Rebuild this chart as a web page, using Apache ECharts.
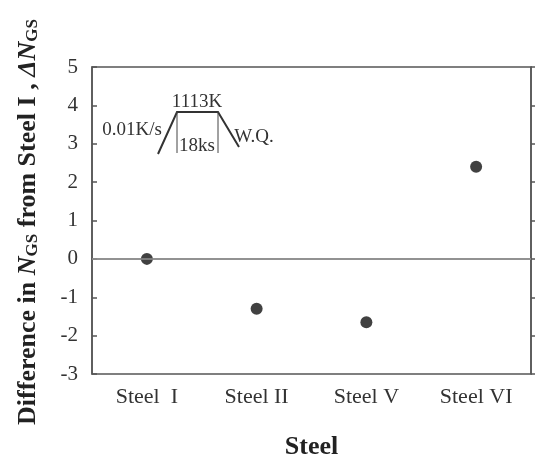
<!DOCTYPE html>
<html><head><meta charset="utf-8">
<script src="https://cdn.jsdelivr.net/npm/echarts@6/dist/echarts.min.js"></script>
<style>html,body{margin:0;padding:0;background:#fff}#c{width:536px;height:465px}</style>
</head><body><div id="c"></div>
<script>
const categories = ['Steel  I', 'Steel II', 'Steel V', 'Steel VI'];
const deltaNgs = [0, -1.3, -1.65, 2.4];
const yTicks = [-3, -2, -1, 0, 1, 2, 3, 4, 5];

const serif = '"Liberation Serif", "DejaVu Serif", serif';
const chart = echarts.init(document.getElementById('c'), null, {renderer: 'canvas'});
const axisCol = '#555';
chart.setOption({
  animation: false,
  backgroundColor: '#fff',
  grid: {left: 92, right: 5, top: 67, bottom: 74, show: true, borderColor: axisCol, borderWidth: 1.5, backgroundColor: 'transparent'},
  xAxis: {
    type: 'category', data: categories, boundaryGap: true,
    axisLine: {lineStyle: {color: axisCol, width: 1.5}},
    axisTick: {inside: true, length: 5, alignWithLabel: true, lineStyle: {color: axisCol, width: 1.5}},
    axisLabel: {color: '#333', fontFamily: serif, fontSize: 22, margin: 12},
    splitLine: {show: false},
    name: 'Steel', nameLocation: 'middle', nameGap: 60,
    nameTextStyle: {fontFamily: serif, fontSize: 26, fontWeight: 'bold', color: '#222'}
  },
  yAxis: [{
    type: 'value', min: yTicks[0], max: yTicks[yTicks.length - 1], interval: 1,
    axisLine: {show: true, lineStyle: {color: axisCol, width: 1.5}},
    axisTick: {show: true, inside: true, length: 5, lineStyle: {color: axisCol, width: 1.5}},
    axisLabel: {color: '#333', fontFamily: serif, fontSize: 21, margin: 14},
    splitLine: {show: false}
  }, {
    type: 'value', position: 'right', min: yTicks[0], max: yTicks[yTicks.length - 1], interval: 1,
    axisLine: {show: true, lineStyle: {color: axisCol, width: 1.5}},
    axisTick: {show: true, inside: false, length: 4, lineStyle: {color: axisCol, width: 1.5}},
    axisLabel: {show: false}, splitLine: {show: false}
  }],
  series: [{
    type: 'scatter', data: deltaNgs, symbolSize: 12,
    itemStyle: {color: '#111'},
    markLine: {
      silent: true, symbol: 'none', label: {show: false},
      lineStyle: {color: '#999', width: 1.5, type: 'solid'},
      data: [{yAxis: 0}]
    }
  }],
  graphic: [
    {type: 'text', x: 28, y: 222, rotation: Math.PI / 2, style: {
      text: '{b|Difference in }{i|N}{s|GS}{b| from Steel I , }{i|ΔN}{s|GS}',
      align: 'center', verticalAlign: 'middle',
      rich: {
        b: {fontFamily: serif, fontSize: 26, fontWeight: 'bold', fill: '#222'},
        i: {fontFamily: serif, fontSize: 26, fontWeight: 'bold', fontStyle: 'italic', fill: '#222'},
        s: {fontFamily: serif, fontSize: 17, fontWeight: 'bold', fill: '#222', padding: [10, 0, 0, 0]}
      }
    }},
    {type: 'polyline', shape: {points: [[158, 154], [177, 112], [218, 112], [239, 147]]}, style: {stroke: '#333', lineWidth: 2, fill: null}},
    {type: 'line', shape: {x1: 177, y1: 112, x2: 177, y2: 153}, style: {stroke: '#444', lineWidth: 1}},
    {type: 'line', shape: {x1: 218, y1: 112, x2: 218, y2: 153}, style: {stroke: '#444', lineWidth: 1}},
    {type: 'text', x: 197, y: 102, style: {text: '1113K', font: '19px ' + serif, fill: '#333', align: 'center', verticalAlign: 'middle'}},
    {type: 'text', x: 132, y: 130, style: {text: '0.01K/s', font: '19px ' + serif, fill: '#333', align: 'center', verticalAlign: 'middle'}},
    {type: 'text', x: 197, y: 146, style: {text: '18ks', font: '19px ' + serif, fill: '#333', align: 'center', verticalAlign: 'middle'}},
    {type: 'text', x: 254, y: 137, style: {text: 'W.Q.', font: '19px ' + serif, fill: '#333', align: 'center', verticalAlign: 'middle'}}
  ]
});
</script></body></html>
